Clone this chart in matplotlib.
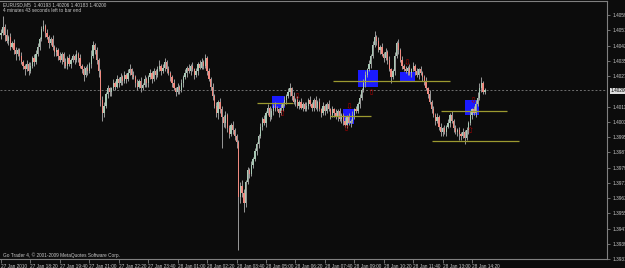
# plot.py
# EURUSD M5 candle chart, MetaTrader look (dark background, boxes, levels, arrows)

import matplotlib
matplotlib.use('Agg')

import matplotlib.pyplot as plt
from matplotlib.patches import Rectangle
import numpy as np

# ==============================================================================
#  Data (prices stored as pips above 1.39000)
# ==============================================================================

BASE = 1.39
PIP = 0.0001

first_open = 149
closes = [
    150, 153, 149, 146, 148, 143, 145, 141, 139, 141,
    138, 135, 133, 131, 134, 130, 133, 137, 135, 139,
    143, 147, 152, 154, 150, 148, 145, 147, 143, 140,
    141, 138, 136, 139, 135, 133, 137, 134, 136, 138,
    136, 139, 137, 133, 131, 128, 132, 130, 134, 138,
    144, 141, 136, 130, 115, 108, 112, 118, 121, 119,
    121, 124, 122, 126, 124, 127, 125, 128, 126, 129,
    131, 128, 127, 124, 122, 125, 121, 123, 126, 124,
    127, 129, 126, 130, 128, 131, 133, 130, 132, 135,
    131, 129, 127, 124, 121, 119, 122, 120, 124, 127,
    129, 132, 130, 133, 131, 128, 130, 134, 132, 135,
    133, 137, 130, 126, 122, 117, 112, 108, 114, 110,
    106, 103, 107, 100, 97, 102, 99, 96, 93, 64,
    70, 66, 61, 72, 78, 76, 81, 84, 88, 92,
    96, 101, 105, 103, 108, 111, 106, 109, 112, 110,
    110, 108, 111, 113, 115, 117, 119, 121, 117, 114,
    115, 112, 114, 111, 113, 110, 112, 115, 113, 111,
    115, 111, 114, 110, 108, 112, 109, 113, 110, 107,
    110, 108, 106, 109, 105, 107, 104, 102, 106, 103,
    104, 107, 110, 109, 113, 116, 120, 124, 128, 131,
    134, 138, 144, 148, 146, 141, 143, 139, 137, 140,
    136, 131, 127, 130, 138, 145, 141, 136, 133, 131,
    130, 132, 129, 131, 133, 130, 128, 131, 129, 127,
    125, 121, 118, 114, 110, 107, 104, 106, 101, 98,
    100, 98, 101, 103, 107, 104, 100, 98, 99, 97,
    96, 98, 95, 99, 103, 107, 110, 108, 113, 116,
    121, 124, 119, 120,
]
# upper / lower shadow beyond the body, pips
upper_wick = [
    2, 6, 2, 3, 1, 2, 1, 2, 2, 1,
    1, 2, 1, 1, 2, 1, 2, 1, 2, 2,
    2, 1, 2, 3, 1, 2, 1, 1, 2, 1,
    2, 1, 2, 1, 1, 2, 1, 2, 1, 1,
    1, 2, 1, 2, 1, 2, 1, 2, 1, 3,
    2, 1, 2, 1, 1, 2, 2, 1, 2, 1,
    1, 2, 1, 2, 1, 2, 1, 2, 1, 2,
    3, 1, 2, 1, 2, 1, 2, 1, 2, 1,
    1, 2, 1, 2, 1, 2, 3, 1, 2, 2,
    1, 2, 1, 1, 2, 1, 2, 1, 2, 1,
    2, 1, 2, 1, 2, 1, 2, 1, 2, 2,
    1, 2, 1, 2, 1, 2, 1, 2, 1, 2,
    2, 1, 2, 1, 2, 1, 2, 1, 1, 1,
    2, 3, 2, 1, 2, 1, 2, 1, 2, 1,
    1, 2, 1, 2, 1, 2, 1, 2, 1, 2,
    2, 1, 2, 1, 2, 1, 2, 3, 1, 2,
    1, 2, 1, 2, 1, 1, 2, 1, 2, 1,
    1, 2, 1, 2, 1, 2, 1, 1, 2, 1,
    2, 1, 2, 1, 2, 1, 1, 2, 1, 2,
    1, 2, 1, 2, 1, 2, 1, 2, 2, 1,
    2, 1, 2, 3, 1, 2, 1, 2, 1, 2,
    1, 2, 1, 1, 2, 1, 2, 1, 2, 1,
    2, 1, 2, 1, 2, 1, 2, 1, 2, 1,
    1, 2, 1, 2, 1, 2, 1, 2, 1, 2,
    1, 2, 1, 2, 1, 2, 1, 2, 1, 2,
    1, 2, 1, 2, 1, 2, 1, 2, 2, 3,
    3, 3, 1, 1,
]
lower_wick = [
    2, 1, 3, 1, 2, 2, 1, 2, 3, 1,
    2, 1, 2, 3, 1, 2, 1, 1, 2, 1,
    1, 2, 1, 1, 2, 1, 3, 1, 2, 2,
    2, 2, 1, 2, 3, 1, 2, 1, 2, 1,
    2, 1, 2, 1, 2, 3, 1, 2, 1, 2,
    1, 2, 2, 3, 3, 4, 2, 1, 2, 2,
    2, 1, 2, 1, 2, 1, 2, 1, 2, 1,
    1, 2, 1, 2, 2, 1, 2, 1, 1, 2,
    2, 1, 2, 1, 2, 1, 1, 2, 1, 2,
    2, 1, 2, 2, 1, 2, 1, 2, 1, 2,
    1, 2, 1, 2, 1, 2, 1, 2, 1, 1,
    2, 1, 2, 1, 2, 2, 1, 2, 3, 2,
    16, 2, 3, 2, 2, 1, 2, 2, 3, 28,
    3, 2, 5, 2, 1, 2, 1, 2, 1, 2,
    2, 1, 2, 1, 2, 1, 2, 1, 2, 1,
    1, 2, 1, 2, 1, 2, 1, 2, 2, 1,
    2, 1, 2, 1, 2, 1, 1, 2, 1, 2,
    2, 1, 2, 1, 2, 1, 2, 1, 1, 2,
    1, 2, 1, 2, 1, 2, 2, 1, 2, 1,
    2, 1, 2, 1, 1, 2, 1, 1, 2, 1,
    1, 2, 1, 1, 2, 1, 2, 1, 2, 1,
    2, 1, 3, 1, 2, 1, 2, 1, 2, 1,
    1, 2, 1, 2, 1, 2, 1, 2, 1, 2,
    2, 1, 2, 1, 2, 1, 2, 1, 2, 2,
    2, 1, 2, 1, 2, 1, 2, 1, 2, 3,
    2, 1, 3, 1, 2, 1, 2, 1, 2, 1,
    1, 2, 1, 1,
]

# time axis: one label every 16 bars (80 minutes)
time_labels = [
    "27 Jan 2010", "27 Jan 18:20", "27 Jan 19:40", "27 Jan 21:00", "27 Jan 22:20",
    "27 Jan 23:40", "28 Jan 01:00", "28 Jan 02:20", "28 Jan 03:40", "28 Jan 05:00",
    "28 Jan 06:20", "28 Jan 07:40", "28 Jan 09:00", "28 Jan 10:20", "28 Jan 11:40",
    "28 Jan 13:00", "28 Jan 14:20",
]

price_ticks = [1.40595, 1.40515, 1.40435, 1.40355, 1.40275, 1.40115, 1.40035,
               1.39955, 1.39875, 1.39795, 1.39715, 1.39635, 1.39555, 1.39475,
               1.39395, 1.39315]
current_price = 1.40200

# blue zones: (bar start, bar end, pips low, pips high)
zone_start = [147.3, 185.9, 194.0, 216.8, 252.2]
zone_end = [154.3, 191.8, 204.9, 225.0, 259.8]
zone_low = [110.7, 102.3, 121.8, 124.4, 107.1]
zone_high = [117.0, 110.2, 130.7, 129.6, 115.0]

# olive levels: (bar start, bar end, pips)
level_start = [138.9, 178.8, 180.4, 239.0, 234.2]
level_end = [158.7, 201.1, 244.0, 275.0, 281.5]
level_price = [113.4, 106.5, 124.9, 109.2, 93.3]

# red signal arrows
up_arrow_bar = [152.7, 187.5, 201.1, 254.9]
up_arrow_pips = [108.1, 100.2, 119.1, 98.7]
down_arrow_bar = [160.9, 189.1, 220.7, 256.5]
down_arrow_pips = [116.5, 111.3, 134.3, 114.4]

# ==============================================================================
#  Chart
# ==============================================================================

W, H = 625, 268
BG = '#0c0c0c'
FG = '#c8c8c8'
FRAME = '#808080'
SMALL = ['Liberation Sans Narrow', 'Liberation Sans', 'DejaVu Sans']
FS = 3.4

plt.rcParams['font.family'] = SMALL


def px(v):
    return BASE + np.asarray(v, dtype=float) * PIP


fig = plt.figure(figsize=(W / 100, H / 100), dpi=100, facecolor=BG)
ax = fig.add_axes([0, 9 / H, 607 / W, 1 - 10 / H], facecolor=BG)

c = np.array(closes, dtype=float)
o = np.concatenate([[first_open], c[:-1]])
hi = np.maximum(o, c) + np.array(upper_wick)
lo = np.minimum(o, c) - np.array(lower_wick)
x = np.arange(len(c))

# blue zones go below the candles
for x0, x1, y0, y1 in zip(zone_start, zone_end, zone_low, zone_high):
    ax.add_patch(Rectangle((x0, px(y0)), x1 - x0, px(y1) - px(y0),
                           facecolor='#1a1aff', edgecolor='none', zorder=1))

# candles
ax.vlines(x, px(lo), px(hi), color='#9a9a9a', linewidth=0.7, zorder=2)
up = c >= o
ax.bar(x[up], px(c[up]) - px(o[up]), bottom=px(o[up]), width=0.7,
       color='#a8c8b4', linewidth=0, zorder=3)
ax.bar(x[~up], px(o[~up]) - px(c[~up]), bottom=px(c[~up]), width=0.7,
       color='#f08a80', linewidth=0, zorder=3)

# horizontal levels
for x0, x1, p in zip(level_start, level_end, level_price):
    ax.hlines(px(p), x0, x1, color='#9c9a30', linewidth=0.9, zorder=4)

# bid line
ax.axhline(current_price, color='#707070', linewidth=0.7, linestyle=(0, (2, 2)), zorder=1)

# arrows
for b, p in zip(up_arrow_bar, up_arrow_pips):
    ax.text(b, px(p), '⇧', color='#b00000', fontsize=6, ha='center', va='center',
            zorder=5, family='DejaVu Sans')
for b, p in zip(down_arrow_bar, down_arrow_pips):
    ax.text(b, px(p), '⇩', color='#b00000', fontsize=6, ha='center', va='center',
            zorder=5, family='DejaVu Sans')

bar_px = 1.84
ax.set_xlim(-1 / bar_px, 606 / bar_px)
ax.set_ylim(px(31.5), px(166.9))

ax.spines['left'].set_visible(False)
for s in ['top', 'right', 'bottom']:
    ax.spines[s].set_color(FRAME)
    ax.spines[s].set_linewidth(0.8)

# right price axis
ax.yaxis.tick_right()
ax.set_yticks(price_ticks)
ax.set_yticklabels([f"{t:.5f}" for t in price_ticks])
ax.tick_params(axis='y', colors=FRAME, labelcolor=FG, labelsize=FS, length=2.5,
               width=0.6, pad=1.5)

# bottom time axis
ax.set_xticks(np.arange(len(time_labels)) * 16)
ax.set_xticklabels(time_labels, ha='left')
ax.tick_params(axis='x', colors=FRAME, labelcolor=FG, labelsize=FS, length=3,
               width=0.6, pad=0.5)

# current price tag
fig.text(611 / W, 1 - 91 / H, f"{current_price:.5f}", fontsize=FS, color='black',
         ha='left', va='center',
         bbox=dict(boxstyle='square,pad=0.2', facecolor='#e0e0e0', edgecolor='none'))

# header / footer
fig.text(3 / W, 1 - 5 / H, "EURUSD,M5  1.40193 1.40206 1.40183 1.40200",
         fontsize=FS, color=FG, ha='left', va='center')
fig.text(3 / W, 1 - 11 / H, "4 minutes 43 seconds left to bar end",
         fontsize=FS, color=FG, ha='left', va='center')
fig.text(3 / W, 1 - 255 / H, "Go Trader 4, © 2001-2009 MetaQuotes Software Corp.",
         fontsize=FS, color=FG, ha='left', va='center')

fig.savefig('out.png', dpi=100, facecolor=BG)
